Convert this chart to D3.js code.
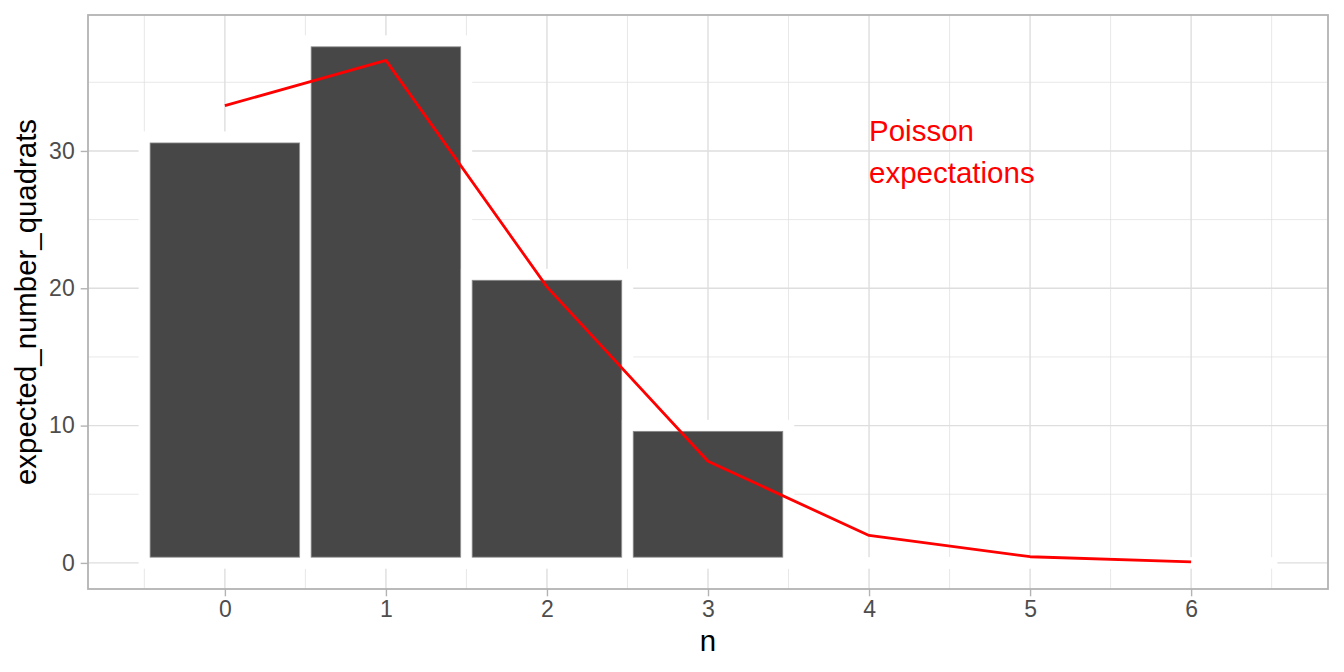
<!DOCTYPE html>
<html>
<head>
<meta charset="utf-8">
<script src="https://cdn.jsdelivr.net/npm/d3@7"></script>
<style>
  body { margin: 0; background: #fff; }
  text { font-family: "Liberation Sans", Arial, sans-serif; }
</style>
</head>
<body>
<svg id="chart" width="1344" height="672"></svg>
<script>
// Data
const nValues = [0, 1, 2, 3, 4, 5, 6];
const observedQuadrats = [31, 38, 21, 10, 0, 0, 0];
const poissonExpected = [33.3, 36.6, 20.1, 7.4, 2.0, 0.45, 0.08];
const xTicks = [0, 1, 2, 3, 4, 5, 6];
const yTicks = [0, 10, 20, 30];
const yMinor = [5, 15, 25, 35];
const xMinor = [-0.5, 0.5, 1.5, 2.5, 3.5, 4.5, 5.5, 6.5];
const annotationLines = ["Poisson", "expectations"];

const svg = d3.select("#chart");
const panel = { left: 88, right: 1328, top: 15, bottom: 589 };

const x = d3.scaleLinear().domain([-0.85, 6.85]).range([panel.left, panel.right]);
const y = d3.scaleLinear().domain([-1.9, 39.9]).range([panel.bottom, panel.top]);

const grid = svg.append("g");
// minor grid
grid.selectAll(".ymin").data(yMinor).enter().append("line")
  .attr("x1", panel.left).attr("x2", panel.right)
  .attr("y1", d => y(d)).attr("y2", d => y(d))
  .attr("stroke", "#DEDEDE").attr("stroke-width", 0.7);
grid.selectAll(".xmin").data(xMinor).enter().append("line")
  .attr("y1", panel.top).attr("y2", panel.bottom)
  .attr("x1", d => x(d)).attr("x2", d => x(d))
  .attr("stroke", "#DEDEDE").attr("stroke-width", 0.7);
// major grid
grid.selectAll(".ymaj").data(yTicks).enter().append("line")
  .attr("x1", panel.left).attr("x2", panel.right)
  .attr("y1", d => y(d)).attr("y2", d => y(d))
  .attr("stroke", "#DEDEDE").attr("stroke-width", 1.4);
grid.selectAll(".xmaj").data(xTicks).enter().append("line")
  .attr("y1", panel.top).attr("y2", panel.bottom)
  .attr("x1", d => x(d)).attr("x2", d => x(d))
  .attr("stroke", "#DEDEDE").attr("stroke-width", 1.4);

// bars
const bw = x(1) - x(0);
const sw = 11.5;
const barData = nValues.map((n, i) => ({ n, v: observedQuadrats[i] }));
const bars = svg.append("g");
bars.selectAll("rect.bar").data(barData).enter().append("rect")
  .attr("x", d => x(d.n - 0.5))
  .attr("width", bw)
  .attr("y", d => y(d.v))
  .attr("height", d => Math.max(0.01, y(0) - y(d.v)))
  .attr("fill", "#474747")
  .attr("stroke", "#FFFFFF")
  .attr("stroke-width", sw)
  .attr("stroke-linejoin", "miter");
bars.selectAll("rect.edge").data(barData.filter(d => d.v > 0)).enter().append("rect")
  .attr("x", d => x(d.n - 0.5) + sw / 2)
  .attr("width", bw - sw)
  .attr("y", d => y(d.v) + sw / 2)
  .attr("height", d => y(0) - y(d.v) - sw)
  .attr("fill", "none")
  .attr("stroke", "#8a8a8a")
  .attr("stroke-width", 0.8);

// poisson line
const line = d3.line().x((d, i) => x(nValues[i])).y(d => y(d));
svg.append("path").datum(poissonExpected)
  .attr("d", line)
  .attr("fill", "none")
  .attr("stroke", "#FF0000")
  .attr("stroke-width", 2.8)
  .attr("stroke-linejoin", "round");

// annotation
const ann = svg.append("text")
  .attr("x", x(4)).attr("y", 141)
  .attr("fill", "#FF0000").attr("font-size", 29.5);
annotationLines.forEach((t, i) => {
  ann.append("tspan").attr("x", x(4)).attr("y", 141 + i * 42).text(t);
});

// panel border
svg.append("rect")
  .attr("x", panel.left).attr("y", panel.top)
  .attr("width", panel.right - panel.left).attr("height", panel.bottom - panel.top)
  .attr("fill", "none").attr("stroke", "#B3B3B3").attr("stroke-width", 1.8);

// axes
const xAxis = d3.axisBottom(x).tickValues(xTicks).tickSize(7.3).tickPadding(4).tickSizeOuter(0);
const gx = svg.append("g").attr("transform", `translate(0,${panel.bottom})`).call(xAxis);
gx.select(".domain").remove();
gx.selectAll(".tick line").attr("stroke", "#B3B3B3").attr("stroke-width", 1.4);
gx.selectAll(".tick text").attr("fill", "#4D4D4D").attr("font-size", 23)
  .attr("font-family", "Liberation Sans, Arial, sans-serif");

const yAxis = d3.axisLeft(y).tickValues(yTicks).tickSize(7.3).tickPadding(6).tickSizeOuter(0);
const gy = svg.append("g").attr("transform", `translate(${panel.left},0)`).call(yAxis);
gy.select(".domain").remove();
gy.selectAll(".tick line").attr("stroke", "#B3B3B3").attr("stroke-width", 1.4);
gy.selectAll(".tick text").attr("fill", "#4D4D4D").attr("font-size", 23)
  .attr("font-family", "Liberation Sans, Arial, sans-serif");

// titles
svg.append("text")
  .attr("x", (panel.left + panel.right) / 2).attr("y", 651)
  .attr("text-anchor", "middle").attr("font-size", 29.4).attr("fill", "#000")
  .text("n");
svg.append("text")
  .attr("transform", `translate(35.7,${(panel.top + panel.bottom) / 2}) rotate(-90)`)
  .attr("text-anchor", "middle").attr("font-size", 29.4).attr("fill", "#000")
  .text("expected_number_quadrats");
</script>
</body>
</html>
